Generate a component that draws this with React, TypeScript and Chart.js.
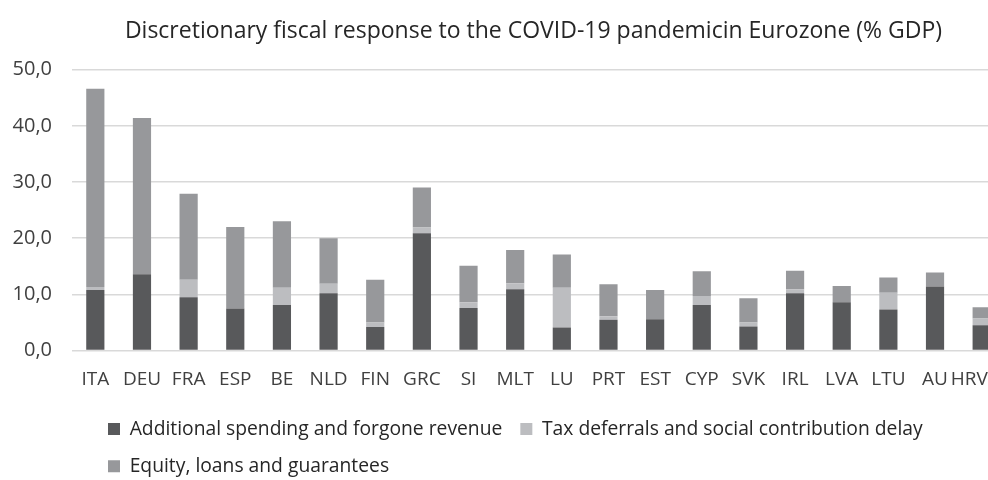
import React, { useEffect, useRef } from "react";
import { Chart, registerables } from "chart.js";

Chart.register(...registerables);

const categories = ["ITA", "DEU", "FRA", "ESP", "BE", "NLD", "FIN", "GRC", "SI", "MLT", "LU", "PRT", "EST", "CYP", "SVK", "IRL", "LVA", "LTU", "AU", "HRV"];
const additionalSpending = [10.8, 13.6, 9.5, 7.5, 8.1, 10.2, 4.2, 20.9, 7.6, 10.9, 4.1, 5.5, 5.6, 8.1, 4.3, 10.2, 8.6, 7.3, 11.4, 4.5];
const taxDeferrals = [0.5, 0, 3.1, 0, 3.1, 1.7, 0.8, 1.0, 1.0, 1.1, 7.1, 0.6, 0, 1.6, 0.7, 0.7, 0, 3.0, 0, 1.2];
const equityLoans = [35.3, 27.8, 15.3, 14.5, 11.8, 8.1, 7.6, 7.1, 6.5, 5.9, 5.9, 5.7, 5.2, 4.4, 4.3, 3.3, 2.9, 2.7, 2.5, 2.0];
const seriesNames = ["Additional spending and forgone revenue", "Tax deferrals and social contribution delay", "Equity, loans and guarantees"];
const yTicks = [0, 10, 20, 30, 40, 50];

const FONT = "'Open Sans'";

const layoutShift = {
  id: "layoutShift",
  afterLayout(chart: any) {
    if (chart.legend) {
      chart.legend.left += 90;
    }
    if (chart.titleBlock) {
      chart.titleBlock.left += 31;
      chart.titleBlock.right += 31;
    }
  },
};

export default function App() {
  const ref = useRef<HTMLCanvasElement | null>(null);
  useEffect(() => {
    document.body.style.margin = "0";
    const ctx = ref.current!;
    const chart = new Chart(ctx, {
      type: "bar",
      data: {
        labels: categories,
        datasets: [
          { label: seriesNames[0], data: additionalSpending, backgroundColor: "#58595b" },
          { label: seriesNames[1], data: taxDeferrals, backgroundColor: "#bcbdc0" },
          { label: seriesNames[2], data: equityLoans, backgroundColor: "#97989b" },
        ],
      },
      plugins: [layoutShift],
      options: {
        responsive: false,
        animation: false,
        devicePixelRatio: 1,
        layout: { padding: { left: 0, right: 65, top: 0, bottom: -6 } },
        datasets: {
          bar: { barPercentage: 0.39, categoryPercentage: 1 },
        },
        plugins: {
          title: {
            display: true,
            text: "Discretionary fiscal response to the COVID-19 pandemicin Eurozone (% GDP)",
            color: "#262626",
            font: { family: FONT, size: 23, weight: "normal" },
            padding: { top: 18, bottom: 24 },
          },
          legend: {
            position: "bottom",
            align: "start",
            labels: {
              color: "#262626",
              font: { family: FONT, size: 19.3 },
              boxWidth: 12,
              boxHeight: 12,
              padding: 18,
            },
          },
          tooltip: { enabled: false },
        },
        scales: {
          x: {
            stacked: true,
            grid: { display: false },
            border: { display: false },
            ticks: {
              color: "#404040",
              font: { family: FONT, size: 19 },
              padding: 10,
              maxRotation: 0,
              autoSkip: false,
              callback: (_v: any, i: number) => (i === categories.length - 1 ? categories[i] + "     " : categories[i]),
            },
          },
          y: {
            stacked: true,
            min: 0,
            max: 50,
            afterBuildTicks(scale: any) {
              scale.ticks = yTicks.map((v) => ({ value: v }));
            },
            afterFit(scale: any) {
              scale.width = 72;
            },
            grid: { color: "#d9d9d9", lineWidth: 1.5, drawTicks: false },
            border: { display: false },
            ticks: {
              color: "#404040",
              font: { family: FONT, size: 20 },
              padding: 20,
              callback: (v: any) => Number(v).toFixed(1).replace(".", ","),
            },
          },
        },
      },
    });
    return () => chart.destroy();
  }, []);
  return (
    <div style={{ position: "fixed", left: 0, top: 0, width: 988, height: 480, overflow: "hidden", background: "#fff" }}>
      <canvas ref={ref} width={1070} height={480} style={{ display: "block" }} />
    </div>
  );
}
